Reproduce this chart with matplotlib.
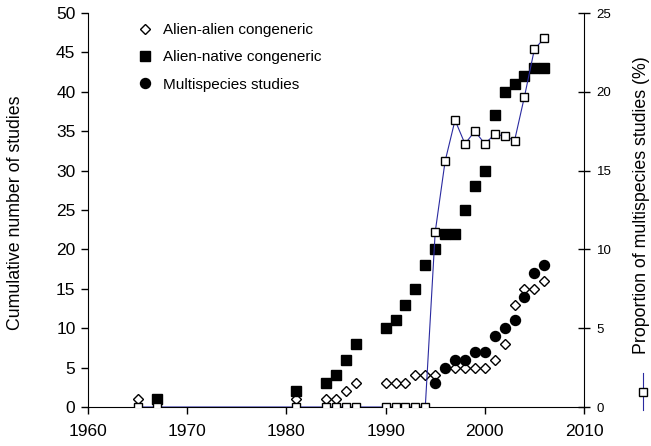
import matplotlib
matplotlib.use("Agg")
import matplotlib.pyplot as plt
from matplotlib.lines import Line2D

plt.rcParams['font.family'] = ['Liberation Sans', 'DejaVu Sans']

# Alien-alien congeneric (cumulative)
aa_years = [1965, 1967, 1981, 1984, 1985, 1986, 1987, 1990, 1991, 1992, 1993, 1994,
            1995, 1996, 1997, 1998, 1999, 2000, 2001, 2002, 2003, 2004, 2005, 2006]
aa_vals = [1, 1, 1, 1, 1, 2, 3, 3, 3, 3, 4, 4,
           4, 5, 5, 5, 5, 5, 6, 8, 13, 15, 15, 16]

# Alien-native congeneric (cumulative)
an_years = [1967, 1981, 1984, 1985, 1986, 1987, 1990, 1991, 1992, 1993, 1994,
            1995, 1996, 1997, 1998, 1999, 2000, 2001, 2002, 2003, 2004, 2005, 2006]
an_vals = [1, 2, 3, 4, 6, 8, 10, 11, 13, 15, 18,
           20, 22, 22, 25, 28, 30, 37, 40, 41, 42, 43, 43]

# Multispecies studies (cumulative)
ms_years = [1995, 1996, 1997, 1998, 1999, 2000, 2001, 2002, 2003, 2004, 2005, 2006]
ms_vals = [3, 5, 6, 6, 7, 7, 9, 10, 11, 14, 17, 18]

# Proportion of multispecies studies (%)
pr_years = [1965, 1967, 1981, 1984, 1985, 1986, 1987, 1990, 1991, 1992, 1993, 1994,
            1995, 1996, 1997, 1998, 1999, 2000, 2001, 2002, 2003, 2004, 2005, 2006]
pr_vals = [0, 0, 0, 0, 0, 0, 0, 0, 0, 0, 0, 0,
           11.1, 15.6, 18.2, 16.7, 17.5, 16.7, 17.3, 17.2, 16.9, 19.7, 22.7, 23.4]

x_ticks = [1960, 1970, 1980, 1990, 2000, 2010]
left_ticks = [0, 5, 10, 15, 20, 25, 30, 35, 40, 45, 50]
right_ticks = [0, 5, 10, 15, 20, 25]

fig = plt.figure(figsize=(6.51, 4.46), dpi=100)
ax = fig.add_axes([88/651, 1-407/446, (584-88)/651, (407-13)/446])

ax.plot(aa_years, aa_vals, linestyle='none', marker='D', ms=4.6, mfc='white',
        mec='black', mew=1.0, label='Alien-alien congeneric', zorder=2)
ax.plot(an_years, an_vals, linestyle='none', marker='s', ms=7.3, mfc='black',
        mec='black', label='Alien-native congeneric', zorder=3)
ax.plot(ms_years, ms_vals, linestyle='none', marker='o', ms=7.2, mfc='black',
        mec='black', label='Multispecies studies', zorder=4)

ax.set_xlim(1960, 2010)
ax.set_ylim(0, 50)
ax.set_xticks(x_ticks)
ax.set_yticks(left_ticks)
ax.tick_params(axis='both', labelsize=12.5, direction='out', length=5, width=1)
ax.tick_params(axis='y', pad=4)
ax.tick_params(axis='x', pad=7)
ax.spines['top'].set_visible(False)
ax.spines['right'].set_visible(False)

fig.text(16/651, 1-213/446, 'Cumulative number of studies', rotation=90,
         ha='center', va='center', fontsize=12.8)

leg = ax.legend(loc='upper left', bbox_to_anchor=(0.0988, 0.974), frameon=False,
                fontsize=11, handletextpad=0.7, labelspacing=0.86,
                handlelength=1.0, borderpad=0, borderaxespad=0)

ax2 = ax.twinx()
ax2.plot(pr_years, pr_vals, color='#2a2aa0', lw=0.8, marker='s', ms=5.6,
         mfc='white', mec='black', mew=1.0, zorder=5)
ax2.set_ylim(0, 25)
ax2.set_yticks(right_ticks)
ax2.tick_params(axis='y', labelsize=9.5, direction='inout', length=8, width=1, pad=5)
ax2.spines['top'].set_visible(False)
ax2.spines['left'].set_visible(False)
ax2.spines['bottom'].set_visible(False)

fig.text(641/651, 1-205/446, 'Proportion of multispecies studies (%)', rotation=90,
         ha='center', va='center', fontsize=12.8)
fig.add_artist(Line2D([643/651, 643/651], [1-373/446, 1-410/446],
                      color='#2a2aa0', lw=0.8, transform=fig.transFigure))
fig.add_artist(Line2D([643/651], [1-392/446], marker='s', ms=5.6, mfc='white',
                      mec='black', mew=1.0, transform=fig.transFigure))

fig.savefig('out.png', dpi=100)
